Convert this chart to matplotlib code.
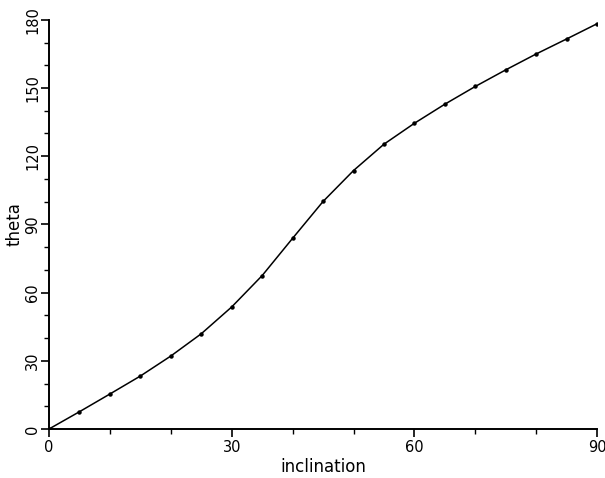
import numpy as np
import matplotlib
matplotlib.use("Agg")
import matplotlib.pyplot as plt
from matplotlib.ticker import MultipleLocator

# inclination (deg) vs theta (deg)
inclination = [0, 5, 10, 15, 20, 25, 30, 35, 40, 45, 50, 55, 60, 65, 70, 75, 80, 85, 90]
theta = [0, 7.6, 15.4, 23.3, 32.1, 41.9, 53.7, 67.5, 83.9, 100.1, 113.7, 125.3,
         134.5, 142.9, 150.7, 158.0, 165.0, 171.6, 178.3]

x_ticks = [0, 30, 60, 90]
y_ticks = [0, 30, 60, 90, 120, 150, 180]

fig = plt.figure(figsize=(6.05, 4.78), dpi=100)
ax = fig.add_axes([0.081, 0.1025, 0.906, 0.856])

ax.plot(inclination, theta, color="black", lw=1.1, marker="o", ms=2.2)

ax.set_xlim(0, 90)
ax.set_ylim(0, 180)
ax.set_xticks(x_ticks)
ax.set_yticks(y_ticks)
ax.xaxis.set_minor_locator(MultipleLocator(10))
ax.yaxis.set_minor_locator(MultipleLocator(10))

for side in ["top", "right"]:
    ax.spines[side].set_visible(False)
for side in ["left", "bottom"]:
    ax.spines[side].set_linewidth(1.4)

ax.tick_params(which="major", direction="out", length=6, width=1.2, labelsize=10.5, pad=2)
ax.tick_params(axis="y", which="major", pad=0.5)
ax.tick_params(which="minor", direction="out", length=3.5, width=1.0)
plt.setp(ax.get_yticklabels(), rotation=90, va="center")

ax.set_xlabel("inclination", fontsize=12, labelpad=2)
ax.set_ylabel("theta", fontsize=12, labelpad=1)

fig.savefig("out.png", dpi=100)
